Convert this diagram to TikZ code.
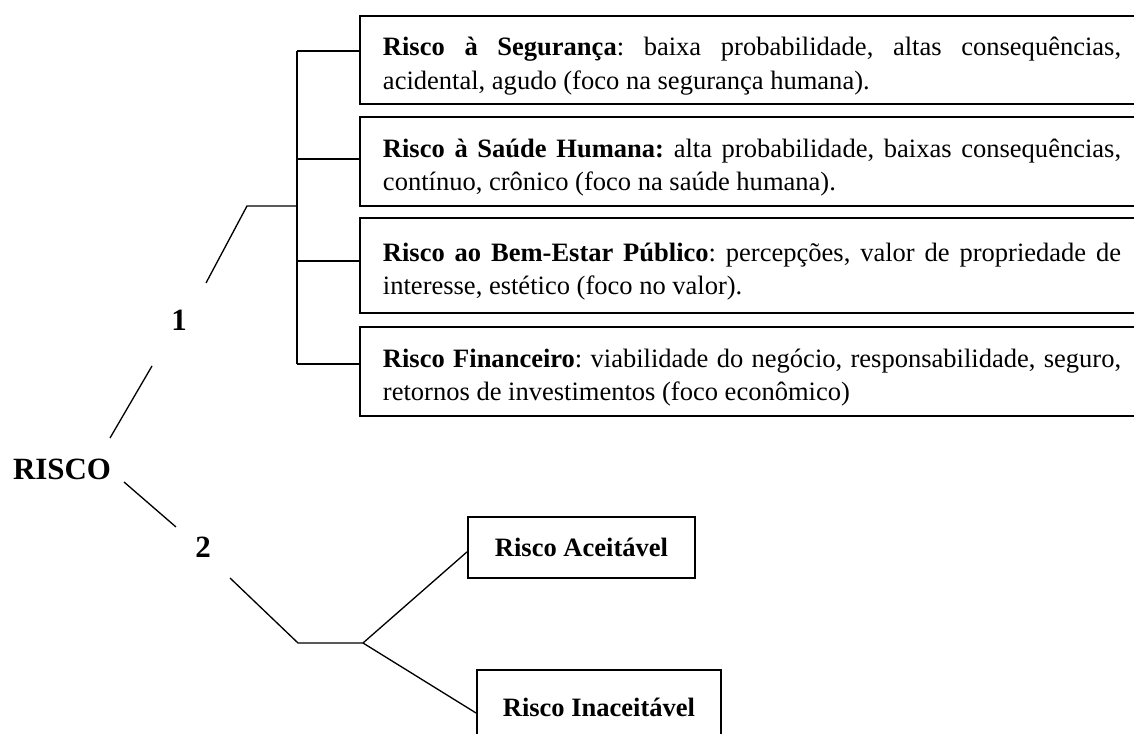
\documentclass[tikz,border=0pt]{standalone}
\usepackage{fontspec}
\setmainfont{Liberation Serif}
\usepackage{tikz}
\usetikzlibrary{positioning, calc}
\frenchspacing

\begin{document}
\begin{tikzpicture}[x=0.4525pt, y=-0.4525pt,
		riskbox/.style={draw, line width=0.9pt, anchor=north west, text width=334pt, inner xsep=10.4pt, align=justify, font=\fontsize{12}{15}\selectfont},
		endbox/.style={draw, line width=0.9pt, anchor=north west, font=\bfseries\fontsize{12}{14.5}\selectfont},
		conn/.style={line width=0.6pt},
		bigtext/.style={font=\bfseries\fontsize{14}{16}\selectfont}]
		\useasboundingbox (0,0) rectangle (1134,734);
		\pgfmathsetmacro{\boxx}{359}
		\pgfmathsetmacro{\brx}{297}
		\hyphenpenalty=10000
		
		\node[riskbox, minimum height=39.8pt] (seg) at (\boxx,15) {\rule{0pt}{14pt}\textbf{Risco à Segurança}: baixa probabilidade, altas consequências,\linebreak acidental, agudo (foco na segurança humana).};
		\node[riskbox, minimum height=40.3pt] (sau) at (\boxx,116) {\rule{0pt}{14pt}\textbf{Risco à Saúde Humana:} alta probabilidade, baixas consequências,\linebreak contínuo, crônico (foco na saúde humana).};
		\node[riskbox, minimum height=43pt] (bem) at (\boxx,217) {\rule{0pt}{14pt}\textbf{Risco ao Bem-Estar Público}: percepções, valor de propriedade de\linebreak interesse, estético (foco no valor).};
		\node[riskbox, minimum height=40.3pt] (fin) at (\boxx,326) {\rule{0pt}{14pt}\textbf{Risco Financeiro}: viabilidade do negócio, responsabilidade, seguro,\linebreak retornos de investimentos (foco econômico)};
		
		\node[bigtext] (risco) at (62,469) {RISCO};
		\node[bigtext] (one) at (179,320) {1};
		\node[bigtext] (two) at (203,547) {2};
		
		\node[endbox, minimum width=102.7pt, minimum height=27.6pt] (acc) at (467,516) {Risco Aceitável};
		\node[endbox, minimum width=110.4pt, minimum height=33.5pt] (inac) at (476,669) {Risco Inaceitável};
		
		\coordinate (top1) at (\brx,51);
		\coordinate (bot1) at (\brx,364);
		\coordinate (hub1) at (\brx,206);
		\coordinate (elbow1) at (247,206);
		\coordinate (up1) at (206,283);
		\coordinate (low1) at (152,366);
		\coordinate (rtop) at (110,438);
		\coordinate (rbot) at (124,482);
		\coordinate (up2) at (176,527);
		\coordinate (low2) at (230,578);
		\coordinate (elbow2) at (298,643);
		\coordinate (hub2) at (363,643);
		
		\draw[conn] (top1) -- (bot1);
		\foreach \b/\y in {seg/51, sau/159, bem/261, fin/364} {
			\coordinate (stub) at (\brx,\y);
			\draw[conn] (stub) -- (stub -| \b.west);
		}
		\draw[conn] (hub1) -- (elbow1) -- (up1);
		\draw[conn] (low1) -- (rtop);
		\draw[conn] (rbot) -- (up2);
		\draw[conn] (low2) -- (elbow2) -- (hub2);
		\draw[conn] (hub2) -- ([yshift=-2pt]acc.west);
		\draw[conn] (hub2) -- ([yshift=-2.7pt]inac.west);
\end{tikzpicture}
\end{document}
